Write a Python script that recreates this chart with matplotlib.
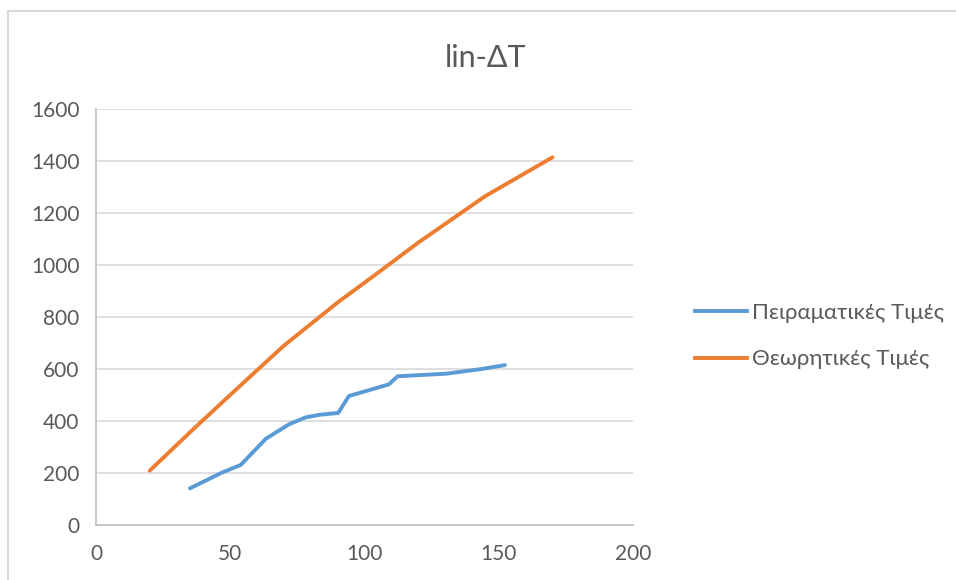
import matplotlib.pyplot as plt
from matplotlib.lines import Line2D

# Πειραματικές Τιμές (experimental)
exp_x = [35, 46.8, 53.9, 63.3, 72.0, 78.1, 83.4, 90.2, 94.2, 109.1, 112.3, 130.5, 143.6, 152.3]
exp_y = [141, 201, 231, 332, 388, 414, 424, 431, 496, 541, 572, 582, 600, 615]

# Θεωρητικές Τιμές (theoretical)
th_x = [20, 37, 55, 70, 90, 105, 120, 145, 170]
th_y = [209, 376, 548, 690, 856, 970, 1086, 1265, 1414]

labels = ["Πειραματικές Τιμές", "Θεωρητικές Τιμές"]
title = "lin-ΔT"

plt.rcParams['font.family'] = ['Lato', 'DejaVu Sans']
text_col = "#595959"

fig = plt.figure(figsize=(9.56, 5.8), dpi=100)
ax = fig.add_axes([96/956, 1-525/580, (633-96)/956, (525-109)/580])

ax.plot(exp_x, exp_y, color="#5B9BD5", lw=2.8, solid_joinstyle="round", solid_capstyle="round")
ax.plot(th_x, th_y, color="#ED7D31", lw=2.8, solid_joinstyle="round", solid_capstyle="round")

ax.set_xlim(0, 200)
ax.set_ylim(0, 1600)
ax.set_xticks(range(0, 201, 50))
ax.set_yticks(range(0, 1601, 200))
ax.grid(axis="y", color="#d9d9d9", lw=1.2)
ax.set_axisbelow(True)
for s in ["top", "right"]:
    ax.spines[s].set_visible(False)
for s in ["left", "bottom"]:
    ax.spines[s].set_color("#bfbfbf")
    ax.spines[s].set_linewidth(1.2)
ax.tick_params(length=0, labelsize=15, colors=text_col, pad=12)
ax.tick_params(axis="x", pad=14)

fig.text(486/956, 1-58/580, title, ha="center", va="center", fontsize=22, color=text_col)

# chart border (left and top)
fig.add_artist(Line2D([8/956, 8/956], [0, 1-11/580], color="#d9d9d9", lw=1.5))
fig.add_artist(Line2D([8/956, 1], [1-11/580, 1-11/580], color="#d9d9d9", lw=1.5))

handles = [Line2D([], [], color="#5B9BD5", lw=2.8), Line2D([], [], color="#ED7D31", lw=2.8)]
leg = fig.legend(handles, labels, loc="center left", bbox_to_anchor=(684/956, 1-336/580),
                 frameon=False, fontsize=16, handlelength=2.35, handletextpad=0.22,
                 labelspacing=1.2, borderpad=0, labelcolor=text_col)

fig.savefig("out.png", dpi=100)
